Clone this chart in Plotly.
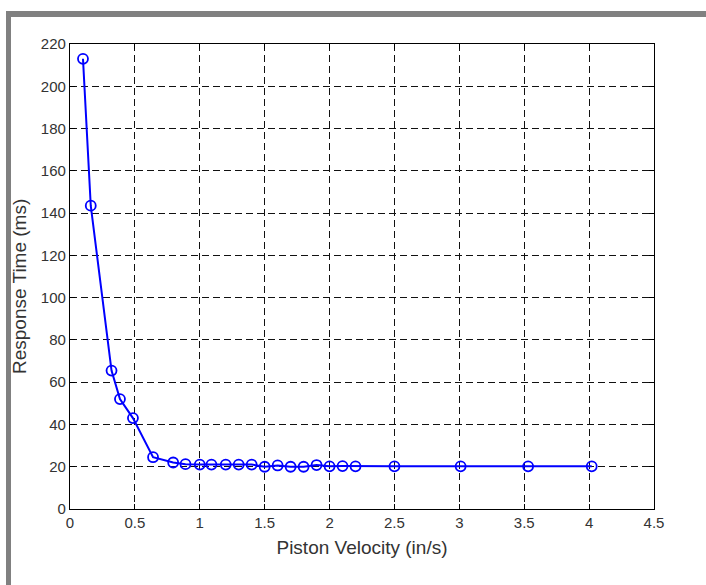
import plotly.graph_objects as go

velocity = [0.1, 0.16, 0.32, 0.385, 0.485, 0.64, 0.795, 0.89, 1.0, 1.09, 1.2, 1.3, 1.4,
            1.5, 1.6, 1.7, 1.8, 1.9, 2.0, 2.1, 2.2, 2.5, 3.01, 3.53, 4.02]
response = [213, 143.5, 65.5, 52, 43, 24.5, 22, 21.2, 21, 21, 21, 21, 21,
            20, 20.6, 20, 20, 20.8, 20.2, 20.3, 20.2, 20.2, 20.2, 20.2, 20.2]

x_ticks = [0, 0.5, 1, 1.5, 2, 2.5, 3, 3.5, 4, 4.5]
x_tick_labels = ["0", "0.5", "1", "1.5", "2", "2.5", "3", "3.5", "4", "4.5"]
y_ticks = [0, 20, 40, 60, 80, 100, 120, 140, 160, 180, 200, 220]

W, H = 706, 585
L, R, T, B = 70, 52, 44, 76
pw, ph = W - L - R, H - T - B

def px(xp):
    return (xp - L) / pw

def py(yp):
    return (H - B - yp) / ph

FONT = "Liberation Sans, Arial"

fig = go.Figure()
fig.add_trace(go.Scatter(
    x=velocity, y=response, mode="lines+markers",
    line=dict(color="#0000ff", width=2),
    marker=dict(symbol="circle-open", size=10, color="#0000ff", line=dict(width=1.8)),
    showlegend=False, cliponaxis=False,
))

axis_common = dict(
    showline=True, linecolor="#000", linewidth=1.3, mirror="ticks",
    ticks="inside", ticklen=5, tickcolor="#000",
    showgrid=True, gridcolor="#111", griddash="7px,4px", gridwidth=1.3,
    zeroline=False,
    tickfont=dict(family=FONT, size=15, color="#333"),
)

fig.update_xaxes(range=[0, 4.5], tickvals=x_ticks, ticktext=x_tick_labels,
                 title=dict(text="Piston Velocity (in/s)", standoff=10,
                            font=dict(family=FONT, size=19, color="#333")),
                 **axis_common)
fig.update_yaxes(range=[0, 220], tickvals=y_ticks, **axis_common)

shapes = [
    dict(type="rect", xref="paper", yref="paper", x0=px(6), x1=px(706), y0=py(17), y1=py(11),
         fillcolor="#808080", line=dict(width=0), layer="above"),
    dict(type="rect", xref="paper", yref="paper", x0=px(6), x1=px(11), y0=py(585), y1=py(11),
         fillcolor="#808080", line=dict(width=0), layer="above"),
]

annotations = [
    dict(text="Response Time (ms)", xref="paper", yref="paper", x=px(19), y=py(287),
         xanchor="center", yanchor="middle", textangle=-90, showarrow=False,
         font=dict(family=FONT, size=19, color="#333")),
]

fig.update_layout(
    width=W, height=H,
    margin=dict(l=L, r=R, t=T, b=B, autoexpand=False),
    paper_bgcolor="white", plot_bgcolor="white",
    shapes=shapes, annotations=annotations,
)

fig.write_html("out.html", config={"displayModeBar": False},
               post_script="document.body.style.margin='0px';")
